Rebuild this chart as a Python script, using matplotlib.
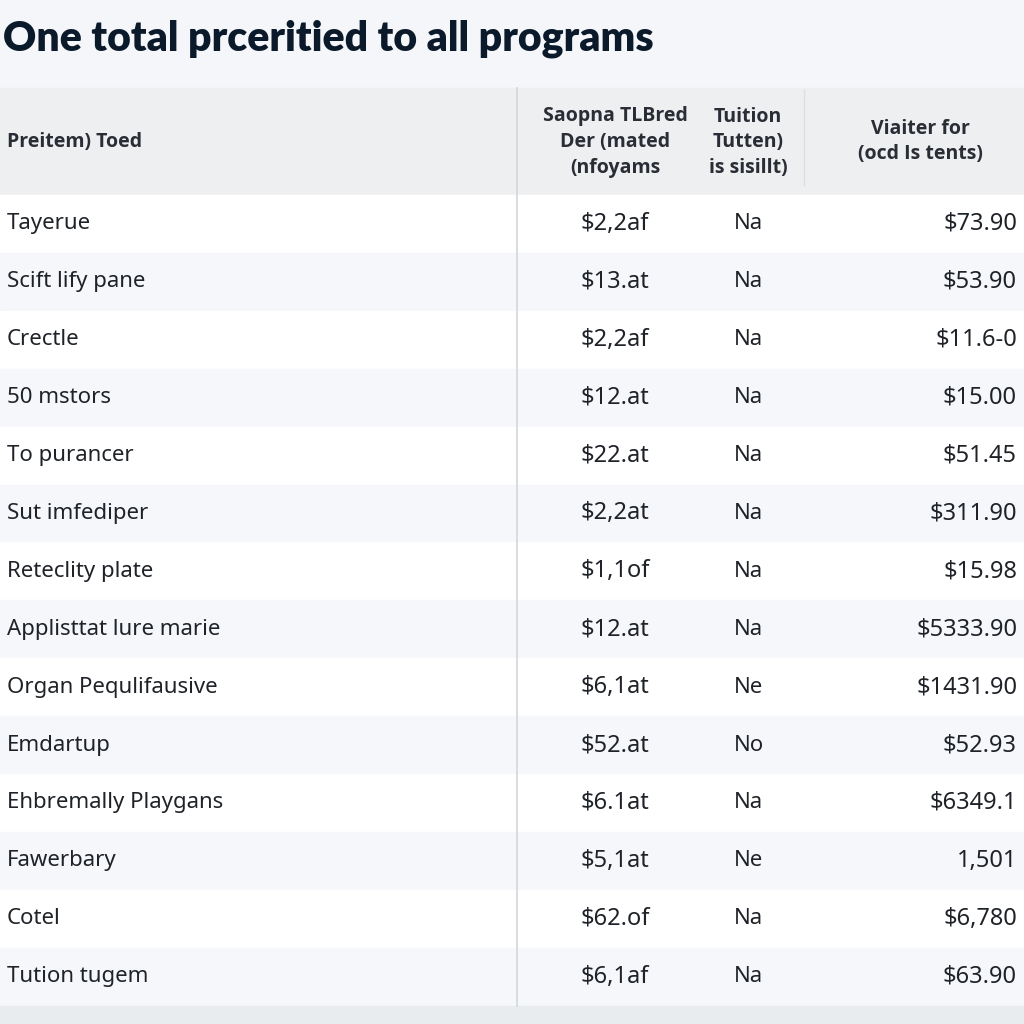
import matplotlib.pyplot as plt
from matplotlib.patches import Rectangle

# Table content
title = 'One total prceritied to all programs'
headers = ['Preitem) Toed',
           'Saopna TLBred\nDer (mated\n(nfoyams',
           'Tuition\nTutten)\nis sisillt)',
           'Viaiter for\n(ocd Is tents)']
programs = ['Tayerue', 'Scift lify pane', 'Crectle', '50 mstors', 'To purancer',
            'Sut imfediper', 'Reteclity plate', 'Applisttat lure marie',
            'Organ Pequlifausive', 'Emdartup', 'Ehbremally Playgans',
            'Fawerbary', 'Cotel', 'Tution tugem']
based_cost = ['$2,2af', '$13.at', '$2,2af', '$12.at', '$22.at', '$2,2at', '$1,1of',
              '$12.at', '$6,1at', '$52.at', '$6.1at', '$5,1at', '$62.of', '$6,1af']
tuition = ['Na', 'Na', 'Na', 'Na', 'Na', 'Na', 'Na', 'Na', 'Ne', 'No', 'Na', 'Ne', 'Na', 'Na']
total = ['$73.90', '$53.90', '$11.6-0', '$15.00', '$51.45', '$311.90', '$15.98',
         '$5333.90', '$1431.90', '$52.93', '$6349.1', '1,501', '$6,780', '$63.90']

plt.rcParams['font.family'] = ['Noto Sans', 'DejaVu Sans']

fig = plt.figure(figsize=(10.24, 10.24), dpi=100)
fig.patch.set_facecolor('#f4f6f9')
ax = fig.add_axes([0, 0, 1, 1])
ax.set_xlim(0, 1024)
ax.set_ylim(1024, 0)
ax.axis('off')

text_color = '#1f2328'
head_color = '#2a2d35'
head_font = ['Open Sans', 'DejaVu Sans']
header_top = 88
header_h = 107
row_h = 57.9
table_top = header_top + header_h
n = len(programs)
table_bottom = table_top + n * row_h

# Title
ax.text(3, 39, title, fontsize=29.5, fontweight='heavy', color='#0b1a2b',
        va='center', ha='left', family=['Lato', 'DejaVu Sans'])

# Header band
ax.add_patch(Rectangle((0, header_top), 1024, header_h, color='#eeeff0', zorder=0))

# Rows
for i in range(n):
    y0 = table_top + i * row_h
    face = '#ffffff' if i % 2 == 0 else '#f5f7fa'
    ax.add_patch(Rectangle((0, y0), 1024, row_h, color=face, zorder=0))
    yc = y0 + row_h / 2
    ax.text(7, yc, programs[i], fontsize=16, color=text_color, va='center', ha='left')
    ax.text(581, yc, based_cost[i], fontsize=17, color=text_color, va='center', ha='left')
    ax.text(734, yc, tuition[i], fontsize=16, color=text_color, va='center', ha='left')
    ax.text(1017, yc, total[i], fontsize=17, color=text_color, va='center', ha='right')

# Bottom band
ax.add_patch(Rectangle((0, table_bottom), 1024, 1024 - table_bottom, color='#e9ecef', zorder=0))

# Separators
ax.plot([517, 517], [header_top, table_bottom], color='#d3d6da', lw=1.2)
ax.plot([804, 804], [header_top + 2, header_top + header_h - 10], color='#dcdfe2', lw=1.0)

# Header text
hy = header_top + header_h / 2
ax.text(7, hy, headers[0], fontsize=14, fontweight='bold', color=head_color,
        va='center', ha='left', family=head_font)
ax.text(615, hy + 1, headers[1], fontsize=14, fontweight='bold', color=head_color,
        va='center', ha='center', linespacing=1.4, family=head_font)
ax.text(748, hy + 1, headers[2], fontsize=14, fontweight='bold', color=head_color,
        va='center', ha='center', linespacing=1.4, family=head_font)
ax.text(920, hy, headers[3], fontsize=14, fontweight='bold', color=head_color,
        va='center', ha='center', linespacing=1.4, family=head_font)

plt.savefig('out.png', dpi=100, facecolor=fig.get_facecolor())
